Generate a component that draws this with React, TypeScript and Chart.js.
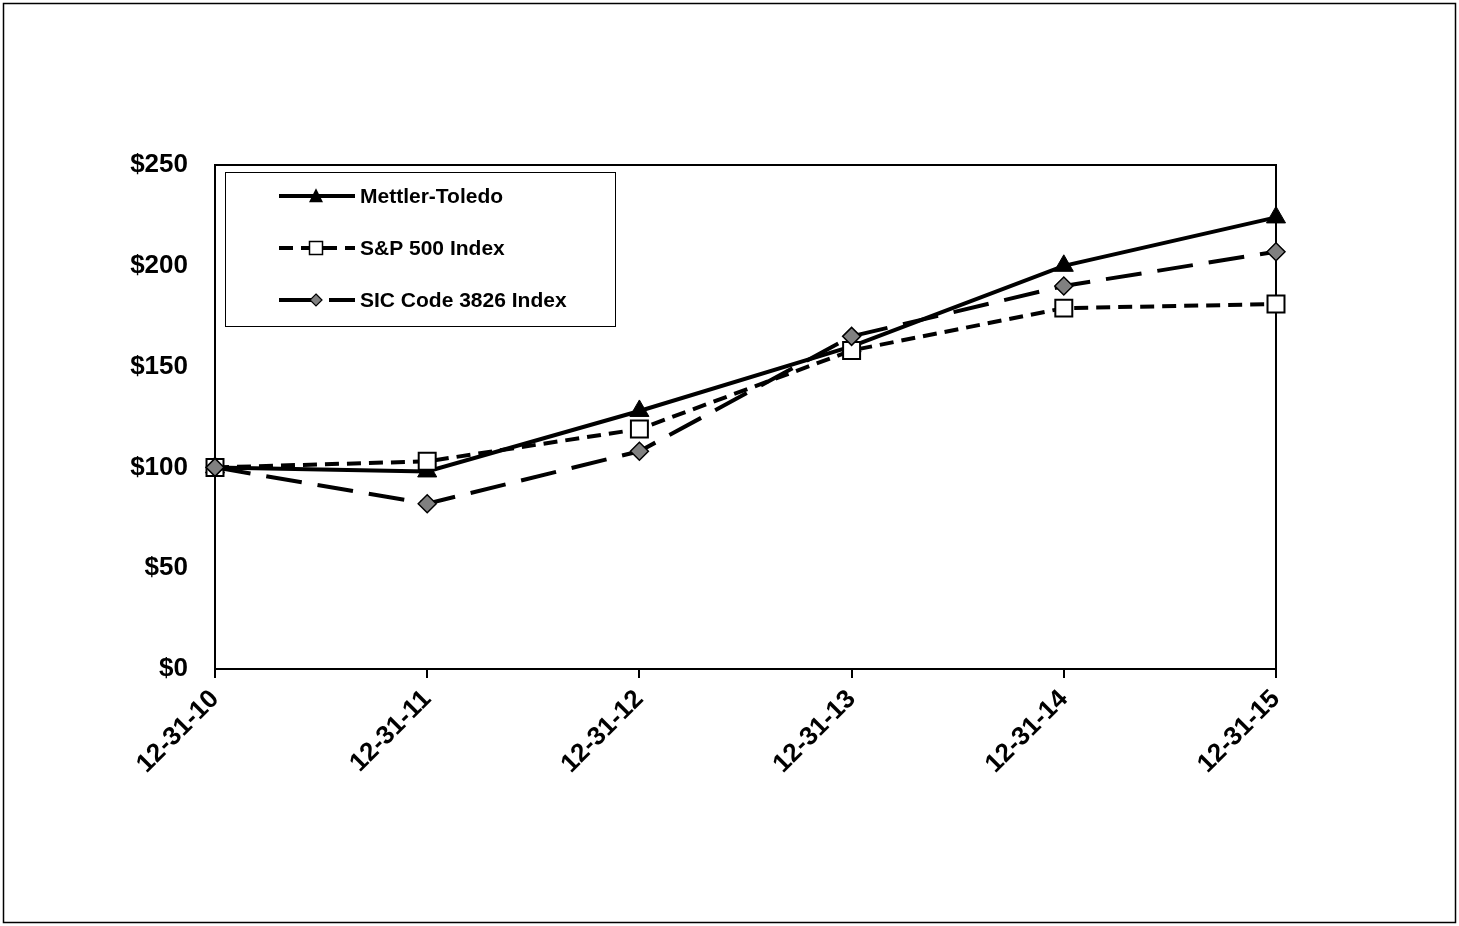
import React, { useEffect, useRef } from "react";
import { Chart, registerables } from "chart.js";

Chart.register(...registerables);

const categories = ["12-31-10", "12-31-11", "12-31-12", "12-31-13", "12-31-14", "12-31-15"];
const mettlerToledo = [100, 98, 128, 160, 200, 224];
const sp500 = [100, 103, 119, 158, 179, 181];
const sic3826 = [100, 82, 108, 165, 190, 207];
const seriesNames = ["Mettler-Toledo", "S&P 500 Index", "SIC Code 3826 Index"];
const yTicks = [0, 50, 100, 150, 200, 250];

const FONT = "'Liberation Sans', Arial, sans-serif";

function drawMarker(ctx: CanvasRenderingContext2D, kind: string, x: number, y: number, s: number) {
  ctx.save();
  ctx.setLineDash([]);
  ctx.beginPath();
  if (kind === "triangle") {
    ctx.moveTo(x, y - s * 0.55);
    ctx.lineTo(x + s * 0.5, y + s * 0.45);
    ctx.lineTo(x - s * 0.5, y + s * 0.45);
    ctx.closePath();
    ctx.fillStyle = "#000";
    ctx.fill();
  } else if (kind === "square") {
    ctx.rect(x - s / 2, y - s / 2, s, s);
    ctx.fillStyle = "#fff";
    ctx.fill();
    ctx.lineWidth = 1.5;
    ctx.strokeStyle = "#000";
    ctx.stroke();
  } else {
    ctx.moveTo(x, y - s / 2);
    ctx.lineTo(x + s / 2, y);
    ctx.lineTo(x, y + s / 2);
    ctx.lineTo(x - s / 2, y);
    ctx.closePath();
    ctx.fillStyle = "#808080";
    ctx.fill();
    ctx.lineWidth = 1.2;
    ctx.strokeStyle = "#000";
    ctx.stroke();
  }
  ctx.restore();
}

const framePlugin = {
  id: "frame",
  beforeDatasetsDraw(chart: any) {
    const { ctx, chartArea } = chart;
    ctx.save();
    ctx.strokeStyle = "#000";
    ctx.lineWidth = 1.5;
    ctx.strokeRect(3.5, 3.5, 1452, 919);
    ctx.lineWidth = 2;
    ctx.strokeRect(chartArea.left, chartArea.top, chartArea.right - chartArea.left, chartArea.bottom - chartArea.top);
    ctx.restore();
  },
  afterDatasetsDraw(chart: any) {
    const { ctx } = chart;
    ctx.save();
    ctx.fillStyle = "#fff";
    ctx.fillRect(225, 172, 390, 154);
    ctx.strokeStyle = "#000";
    ctx.lineWidth = 1;
    ctx.strokeRect(225.5, 172.5, 390, 154);
    const rows = [196, 248, 300];
    const dashes = [[], [14, 8], [34, 16]];
    const markers = ["triangle", "square", "diamond"];
    const sizes = [14, 13, 12];
    rows.forEach((y, i) => {
      ctx.save();
      ctx.strokeStyle = "#000";
      ctx.lineWidth = 4;
      ctx.setLineDash(dashes[i]);
      ctx.beginPath();
      ctx.moveTo(279, y);
      ctx.lineTo(355, y);
      ctx.stroke();
      ctx.restore();
      drawMarker(ctx, markers[i], 316, y, sizes[i]);
      ctx.fillStyle = "#000";
      ctx.font = `bold 21px ${FONT}`;
      ctx.textBaseline = "middle";
      ctx.textAlign = "left";
      ctx.fillText(seriesNames[i], 360, y + 1);
    });
    ctx.restore();
  },
};

export default function App() {
  const ref = useRef<HTMLCanvasElement>(null);
  useEffect(() => {
    document.body.style.margin = "0";
    const chart = new Chart(ref.current as HTMLCanvasElement, {
      type: "line",
      data: {
        labels: categories,
        datasets: [
          {
            label: seriesNames[0],
            data: mettlerToledo,
            borderColor: "#000",
            borderWidth: 4,
            pointStyle: "triangle",
            pointRadius: 11,
            pointBackgroundColor: "#000",
            pointBorderColor: "#000",
            pointBorderWidth: 1,
            tension: 0,
            order: 3,
          },
          {
            label: seriesNames[1],
            data: sp500,
            borderColor: "#000",
            borderWidth: 4,
            borderDash: [14, 8],
            pointStyle: "rect",
            pointRadius: 12,
            pointBackgroundColor: "#fff",
            pointBorderColor: "#000",
            pointBorderWidth: 2,
            tension: 0,
            order: 2,
          },
          {
            label: seriesNames[2],
            data: sic3826,
            borderColor: "#000",
            borderWidth: 4,
            borderDash: [36, 16],
            pointStyle: "rectRot",
            pointRadius: 9,
            pointBackgroundColor: "#808080",
            pointBorderColor: "#000",
            pointBorderWidth: 1.5,
            tension: 0,
            order: 1,
          },
        ],
      },
      options: {
        animation: false,
        responsive: false,
        devicePixelRatio: 1,
        layout: { padding: { top: 165, right: 183, left: 0, bottom: 107 } },
        plugins: { legend: { display: false }, tooltip: { enabled: false } },
        scales: {
          x: {
            offset: false,
            grid: { drawOnChartArea: false, drawTicks: true, tickLength: 9, color: "#000", lineWidth: 2 },
            border: { display: false },
            ticks: {
              autoSkip: false,
              minRotation: 45,
              maxRotation: 45,
              padding: 6,
              color: "#000",
              font: { family: FONT, size: 26, weight: "bold" },
            },
            afterFit: (s: any) => {
              s.height = 150;
            },
          },
          y: {
            min: 0,
            max: 250,
            afterBuildTicks: (s: any) => {
              s.ticks = yTicks.map((v) => ({ value: v }));
            },
            grid: { display: false, drawTicks: false },
            border: { display: false },
            ticks: {
              padding: 27,
              color: "#000",
              font: { family: FONT, size: 26, weight: "bold" },
              callback: (v: any) => "$" + v,
            },
            afterFit: (s: any) => {
              s.width = 215;
            },
          },
        },
      },
      plugins: [framePlugin],
    });
    return () => chart.destroy();
  }, []);
  return (
    <div style={{ position: "absolute", left: 0, top: 0, width: 1459, height: 926, background: "#fff" }}>
      <canvas ref={ref} width={1459} height={926} style={{ display: "block" }} />
    </div>
  );
}
